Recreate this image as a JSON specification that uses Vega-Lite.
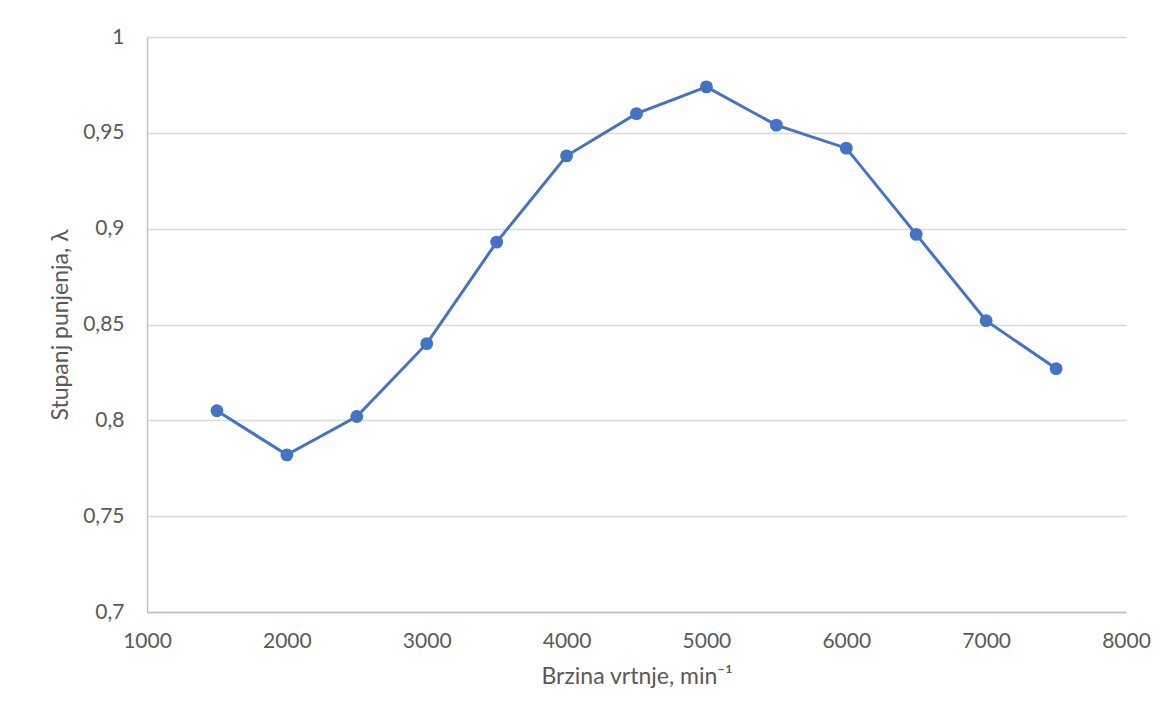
{
  "$schema": "https://vega.github.io/schema/vega-lite/v6.json",
  "autosize": "none",
  "width": 979,
  "height": 575,
  "padding": {"left": 147, "top": 37, "right": 44, "bottom": 112},
  "background": "white",
  "config": {
    "font": "Lato",
    "view": {"stroke": null}
  },
  "data": {
    "values": [
      {"n": 1500, "lambda": 0.805},
      {"n": 2000, "lambda": 0.782},
      {"n": 2500, "lambda": 0.802},
      {"n": 3000, "lambda": 0.840},
      {"n": 3500, "lambda": 0.893},
      {"n": 4000, "lambda": 0.938},
      {"n": 4500, "lambda": 0.960},
      {"n": 5000, "lambda": 0.974},
      {"n": 5500, "lambda": 0.954},
      {"n": 6000, "lambda": 0.942},
      {"n": 6500, "lambda": 0.897},
      {"n": 7000, "lambda": 0.852},
      {"n": 7500, "lambda": 0.827}
    ]
  },
  "encoding": {
    "x": {
      "field": "n",
      "type": "quantitative",
      "scale": {"domain": [1000, 8000], "nice": false, "zero": false},
      "axis": {
        "title": "Brzina vrtnje, min⁻¹",
        "values": [1000, 2000, 3000, 4000, 5000, 6000, 7000, 8000],
        "format": "d",
        "grid": false,
        "ticks": false,
        "domainColor": "#bfbfbf",
        "domainWidth": 1.3,
        "labelFontSize": 21,
        "labelColor": "#595959",
        "labelPadding": 18,
        "labelFlush": false,
        "titleFontSize": 23,
        "titleFontWeight": "normal",
        "titleColor": "#595959",
        "titlePadding": 14
      }
    },
    "y": {
      "field": "lambda",
      "type": "quantitative",
      "scale": {"domain": [0.7, 1.0], "nice": false, "zero": false},
      "axis": {
        "title": "Stupanj punjenja, λ",
        "values": [0.7, 0.75, 0.8, 0.85, 0.9, 0.95, 1.0],
        "labelExpr": "replace(format(datum.value, '.2~f'), '.', ',')",
        "grid": true,
        "gridColor": "#d9d9d9",
        "gridWidth": 1.3,
        "ticks": false,
        "domainColor": "#bfbfbf",
        "domainWidth": 1.3,
        "labelFontSize": 21,
        "labelColor": "#595959",
        "labelPadding": 23,
        "labelFlush": false,
        "titleFontSize": 23,
        "titleFontWeight": "normal",
        "titleColor": "#595959",
        "titlePadding": 10
      }
    }
  },
  "layer": [
    {
      "mark": {"type": "line", "color": "#4472C4", "strokeWidth": 3}
    },
    {
      "mark": {"type": "point", "filled": true, "color": "#4472C4", "opacity": 1, "size": 165}
    }
  ]
}
